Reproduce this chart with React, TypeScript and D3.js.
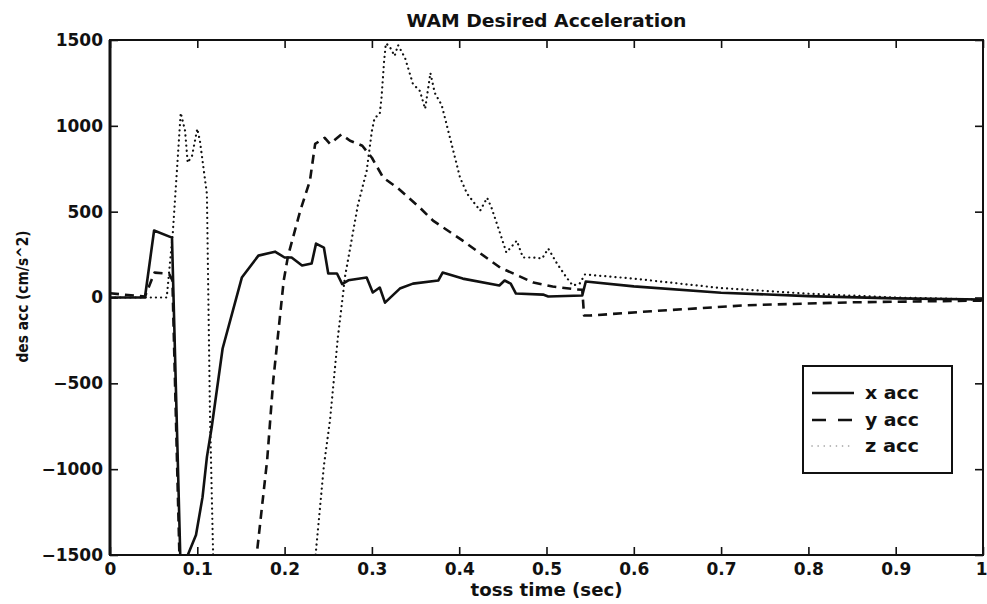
import React, { useEffect, useRef } from "react";
import * as d3 from "d3";

// toss time (sec) / desired acceleration (cm/s^2) samples per axis
const xAcc: [number, number][] = [
  [0, 0], [0.04, 0], [0.0505, 390], [0.071, 349], [0.0825, -1900], [0.0875, -1520],
  [0.0985, -1384], [0.106, -1163], [0.111, -930], [0.1165, -756], [0.129, -297],
  [0.151, 116], [0.17, 244], [0.189, 267], [0.2, 233], [0.208, 233], [0.22, 186],
  [0.231, 198], [0.236, 314], [0.245, 291], [0.25, 140], [0.26, 140], [0.266, 78],
  [0.273, 100], [0.294, 116], [0.301, 29], [0.309, 58], [0.315, -30], [0.332, 52],
  [0.347, 81], [0.376, 99], [0.381, 145], [0.404, 110], [0.446, 70], [0.452, 99],
  [0.459, 81], [0.465, 23], [0.496, 17], [0.502, 6], [0.541, 12], [0.545, 93],
  [0.6, 65], [0.7, 28], [0.8, 8], [0.9, -5], [1.0, -12],
];

const yAcc: [number, number][] = [
  [0, 25], [0.04, 5], [0.051, 145], [0.063, 140], [0.068, 135], [0.0715, 100],
  [0.0815, -1900], [0.16, -1900], [0.168, -1500], [0.18, -948], [0.187, -483],
  [0.199, 99], [0.204, 244], [0.218, 506], [0.229, 680], [0.235, 895], [0.246, 930],
  [0.252, 895], [0.265, 950], [0.275, 913], [0.289, 884], [0.3, 814], [0.313, 698],
  [0.329, 640], [0.355, 523], [0.37, 448], [0.404, 331], [0.447, 174], [0.485, 87],
  [0.507, 64], [0.535, 47], [0.541, 45], [0.543, -105], [0.55, -105], [0.62, -80],
  [0.73, -45], [0.85, -28], [1.0, -18],
];

const zAcc: [number, number][] = [
  [0, 0], [0.065, 0], [0.072, 380], [0.081, 1076], [0.086, 971], [0.089, 785],
  [0.094, 826], [0.1, 983], [0.103, 913], [0.109, 680], [0.111, 605], [0.1145, -674],
  [0.118, -1471], [0.119, -1700], [0.232, -1700], [0.2355, -1500], [0.245, -980],
  [0.252, -715], [0.261, -233], [0.267, 23], [0.269, 116], [0.284, 540], [0.294, 738],
  [0.3, 971], [0.303, 1045], [0.309, 1070], [0.311, 1163], [0.314, 1378], [0.316, 1480],
  [0.32, 1465], [0.326, 1407], [0.33, 1470], [0.338, 1395], [0.347, 1244], [0.355, 1203],
  [0.361, 1099], [0.367, 1308], [0.372, 1192], [0.38, 1120], [0.387, 980], [0.401, 698],
  [0.409, 605], [0.424, 506], [0.432, 581], [0.437, 523], [0.447, 372], [0.454, 262],
  [0.466, 331], [0.473, 233], [0.485, 233], [0.495, 227], [0.502, 285], [0.512, 198],
  [0.523, 116], [0.53, 70], [0.538, 81], [0.544, 134], [0.6, 110], [0.7, 55],
  [0.8, 22], [0.9, 0], [1.0, -12],
];

const xTicks = [0, 0.1, 0.2, 0.3, 0.4, 0.5, 0.6, 0.7, 0.8, 0.9, 1];
const xTickLabels = ["0", "0.1", "0.2", "0.3", "0.4", "0.5", "0.6", "0.7", "0.8", "0.9", "1"];
const yTicks = [-1500, -1000, -500, 0, 500, 1000, 1500];
const yTickLabels = ["-1500", "-1000", "-500", "0", "500", "1000", "1500"];
const seriesNames = ["x acc", "y acc", "z acc"];

const W = 987;
const H = 604;
const M = { left: 110, top: 40, right: 983, bottom: 555 };
const FONT = "'DejaVu Sans', 'Liberation Sans', Arial, sans-serif";
const INK = "#111";

const styles = [
  { dash: null as string | null, width: 2.6, cap: "butt" },
  { dash: "9,6", width: 2.6, cap: "butt" },
  { dash: "0.1,5", width: 2.2, cap: "round" },
];

export default function App() {
  const ref = useRef<SVGSVGElement | null>(null);

  useEffect(() => {
    const svg = d3.select(ref.current);
    svg.selectAll("*").remove();

    const x = d3.scaleLinear().domain([0, 1]).range([M.left, M.right]);
    const y = d3.scaleLinear().domain([-1500, 1500]).range([M.bottom, M.top]);

    svg.append("rect").attr("width", W).attr("height", H).attr("fill", "#fff");

    svg.append("defs").append("clipPath").attr("id", "plotClip")
      .append("rect")
      .attr("x", M.left).attr("y", M.top)
      .attr("width", M.right - M.left).attr("height", M.bottom - M.top);

    const line = d3.line<[number, number]>().x((d) => x(d[0])).y((d) => y(d[1]));

    const plot = svg.append("g").attr("clip-path", "url(#plotClip)");
    [xAcc, yAcc, zAcc].forEach((data, i) => {
      const s = styles[i];
      const p = plot.append("path")
        .attr("d", line(data) as string)
        .attr("fill", "none")
        .attr("stroke", INK)
        .attr("stroke-width", s.width)
        .attr("stroke-linejoin", "round")
        .attr("stroke-linecap", s.cap);
      if (s.dash) p.attr("stroke-dasharray", s.dash);
    });

    const fmtX = (d: d3.NumberValue) => xTickLabels[xTicks.indexOf(+d)];
    const fmtY = (d: d3.NumberValue) => yTickLabels[yTicks.indexOf(+d)].replace("-", "\u2212");

    const styleAxis = (g: d3.Selection<SVGGElement, unknown, null, undefined>) => {
      g.select(".domain").remove();
      g.selectAll("line").attr("stroke", INK).attr("stroke-width", 1.6);
      g.selectAll("text")
        .attr("fill", INK)
        .attr("font-family", FONT)
        .attr("font-weight", "bold")
        .attr("font-size", 17);
    };

    const bottomAxis = svg.append("g").attr("transform", `translate(0,${M.bottom})`)
      .call(d3.axisBottom(x).tickValues(xTicks).tickSize(-8).tickPadding(8).tickFormat(fmtX))
      .call(styleAxis);
    // last label sits flush against the page edge
    bottomAxis.selectAll<SVGTextElement, number>("text")
      .filter((d) => d === 1)
      .attr("text-anchor", "end")
      .attr("x", 4);

    svg.append("g").attr("transform", `translate(0,${M.top})`)
      .call(d3.axisTop(x).tickValues(xTicks).tickSize(-8).tickFormat(() => ""))
      .call(styleAxis);
    svg.append("g").attr("transform", `translate(${M.left},0)`)
      .call(d3.axisLeft(y).tickValues(yTicks).tickSize(-8).tickPadding(7).tickFormat(fmtY))
      .call(styleAxis);
    svg.append("g").attr("transform", `translate(${M.right},0)`)
      .call(d3.axisRight(y).tickValues(yTicks).tickSize(-8).tickFormat(() => ""))
      .call(styleAxis);

    // frame
    svg.append("rect")
      .attr("x", M.left).attr("y", M.top)
      .attr("width", M.right - M.left).attr("height", M.bottom - M.top)
      .attr("fill", "none").attr("stroke", INK).attr("stroke-width", 2);
    svg.append("line")
      .attr("x1", M.left).attr("x2", M.left).attr("y1", M.top).attr("y2", M.bottom)
      .attr("stroke", INK).attr("stroke-width", 3);

    const text = (s: string, px: number, py: number, size: number, len?: number) => {
      const t = svg.append("text")
        .attr("x", px).attr("y", py)
        .attr("font-family", FONT).attr("font-weight", "bold")
        .attr("font-size", size).attr("fill", INK)
        .text(s);
      if (len) t.attr("textLength", len).attr("lengthAdjust", "spacingAndGlyphs");
      return t;
    };

    text("WAM Desired Acceleration", (M.left + M.right) / 2, 27, 17, 280).attr("text-anchor", "middle");
    text("toss time (sec)", (M.left + M.right) / 2, 596, 17, 152).attr("text-anchor", "middle");
    text("des acc (cm/s^2)", 0, 0, 16, 132)
      .attr("text-anchor", "middle")
      .attr("transform", `translate(28,${(M.top + M.bottom) / 2 - 1}) rotate(-90)`);

    // legend
    const lg = { x0: 803, y0: 366, x1: 952, y1: 473 };
    svg.append("rect")
      .attr("x", lg.x0).attr("y", lg.y0)
      .attr("width", lg.x1 - lg.x0).attr("height", lg.y1 - lg.y0)
      .attr("fill", "#fff").attr("stroke", INK).attr("stroke-width", 2);
    const rowY = [393, 420, 446];
    seriesNames.forEach((name, i) => {
      const s = styles[i];
      const l = svg.append("line")
        .attr("x1", 812).attr("x2", 854).attr("y1", rowY[i]).attr("y2", rowY[i])
        .attr("stroke", INK).attr("stroke-width", s.width)
        .attr("stroke-linecap", s.cap);
      if (s.dash) l.attr("stroke-dasharray", i === 1 ? "14,12" : "0.1,6");
      if (i === 2) l.attr("stroke", "#999").attr("stroke-width", 1.6);
      text(name, 865, rowY[i] + 6, 18, 54);
    });
  }, []);

  return (
    <svg
      ref={ref}
      width={W}
      height={H}
      style={{ position: "absolute", left: 0, top: 0, display: "block" }}
    />
  );
}
